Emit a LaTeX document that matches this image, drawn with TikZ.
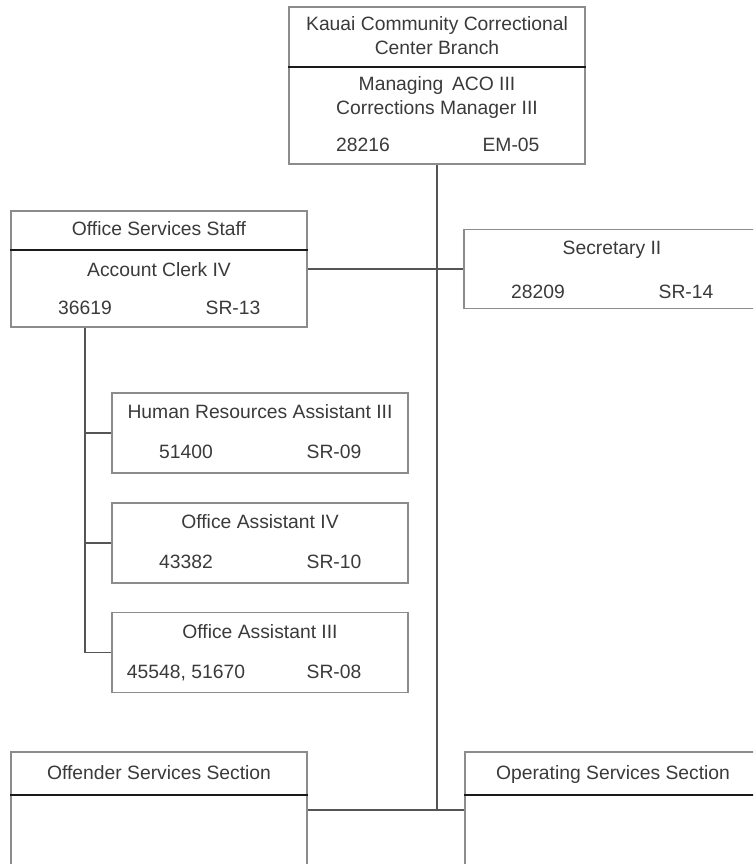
\documentclass[tikz,border=0pt]{standalone}
\usepackage{fontspec}
\setmainfont{Liberation Sans}
\usepackage{tikz}
\usetikzlibrary{calc}

\begin{document}
\begin{tikzpicture}[x=1pt,y=-1pt,
    posbox/.style={draw=col_box,line width=1.6pt,minimum width=296pt,inner sep=0pt},
    txt/.style={text=col_text,font=\fontsize{19.3}{24}\selectfont,inner sep=0pt,align=center},
    txtline/.style={txt,text height=0.72em,text depth=0pt,yshift=-3pt},
    divline/.style={draw=col_div,line width=1.5pt},
    link/.style={draw=col_link,line width=1.4pt}]
    \definecolor{col_box}{HTML}{8C8C8C} % box outline
    \definecolor{col_div}{HTML}{1A1A1A}
    \definecolor{col_link}{HTML}{555555}
    \definecolor{col_text}{HTML}{3A3A3A}
    \useasboundingbox (0,0) rectangle (753,864);
    \clip (0,0) rectangle (753,864);
    % boxes
    \node[posbox,minimum height=157pt] (branch) at (437,85.5) {};
    \node[posbox,minimum height=116pt] (office) at (159,269) {};
    \node[posbox,minimum height=79pt] (sec) at (612,269) {};
    \node[posbox,minimum height=80pt] (hr) at (260,433) {};
    \node[posbox,minimum height=80pt] (oafour) at (260,543) {};
    \node[posbox,minimum height=80pt] (oathree) at (260,652.5) {};
    \node[posbox,minimum height=148pt] (offender) at (159,826) {};
    \node[posbox,minimum height=148pt] (operating) at (613,826) {};
    \draw[divline] (branch.west |- 0,67) -- (branch.east |- 0,67);
    \draw[divline] (office.west |- 0,250) -- (office.east |- 0,250);
    \draw[divline] (offender.west |- 0,795) -- (offender.east |- 0,795);
    \draw[divline] (operating.west |- 0,795) -- (operating.east |- 0,795);
    % texts
    \node[txt] (branchtitle) at (437,35.5) {Kauai Community Correctional\\Center Branch};
    \node[txt] (branchpos) at (437,97.5) {Managing\,\ ACO III\\Corrections Manager III};
    \node[txtline] (branchnum) at (363,145) {28216};
    \node[txtline] (branchsr) at (511,145) {EM-05};
    \node[txtline] (officetitle) at (159,229) {Office Services Staff};
    \node[txtline] (officepos) at (159,270) {Account Clerk IV};
    \node[txtline] (officenum) at (85,308) {36619};
    \node[txtline] (officesr) at (233,308) {SR-13};
    \node[txtline] (secpos) at (612,248) {Secretary II};
    \node[txtline] (secnum) at (538,292) {28209};
    \node[txtline] (secsr) at (686,292) {SR-14};
    \node[txtline] (hrpos) at (260,412) {Human Resources Assistant III};
    \node[txtline] (hrnum) at (186,452) {51400};
    \node[txtline] (hrsr) at (334,452) {SR-09};
    \node[txtline] (oafourpos) at (260,522) {Office Assistant IV};
    \node[txtline] (oafournum) at (186,562) {43382};
    \node[txtline] (oafoursr) at (334,562) {SR-10};
    \node[txtline] (oathreepos) at (260,632) {Office Assistant III};
    \node[txtline] (oathreenum) at (186,672) {45548, 51670};
    \node[txtline] (oathreesr) at (334,672) {SR-08};
    \node[txtline] (offendertitle) at (159,773) {Offender Services Section};
    \node[txtline] (operatingtitle) at (613,773) {Operating Services Section};
    % connectors
    \coordinate (join) at (437,810);
    \coordinate (spine) at (85,652.5);
    \draw[link] (branch.south) -- (join);
    \draw[link] (offender.east |- join) -- (operating.west |- join);
    \draw[link] (office.east) -- (sec.west);
    \draw[link] ([xshift=-74pt]office.south) -- (spine) -- (oathree.west);
    \draw[link] (hr.west) -- (hr.west -| spine);
    \draw[link] (oafour.west) -- (oafour.west -| spine);
\end{tikzpicture}
\end{document}
